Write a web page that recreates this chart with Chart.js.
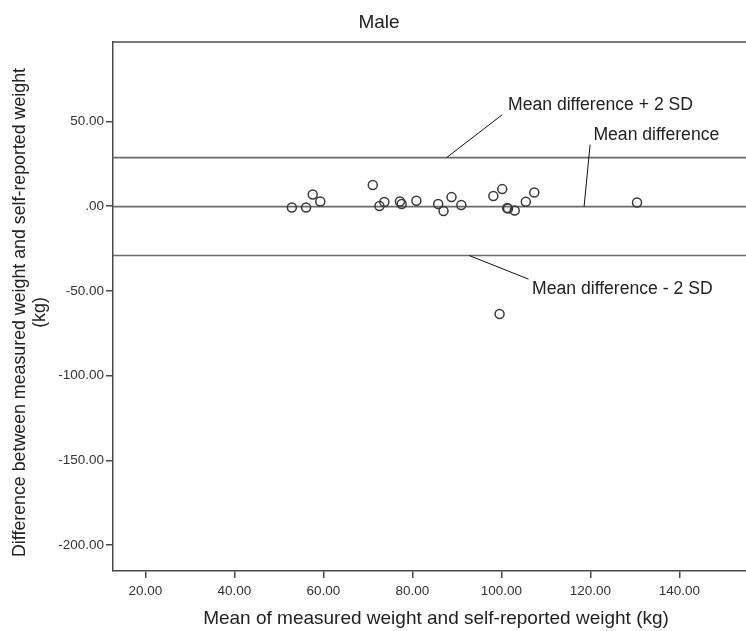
<!DOCTYPE html>
<html>
<head>
<meta charset="utf-8">
<script src="https://cdn.jsdelivr.net/npm/chart.js@4.4.1/dist/chart.umd.min.js"></script>
<style>
  html, body { margin: 0; padding: 0; background: #fff; }
</style>
</head>
<body>
<canvas id="bland-altman" width="746" height="631"></canvas>
<script>
// Bland-Altman data
const meanWeight = [52.9, 56.1, 57.6, 59.3, 71.1, 72.6, 73.7, 77.2, 77.6, 80.9, 85.8, 87.0,
  88.8, 91.0, 98.2, 100.2, 99.6, 101.3, 101.5, 103.0, 105.5, 107.4, 130.5];
const weightDiff = [-0.8, -0.8, 6.8, 2.7, 12.4, 0.0, 2.4, 2.7, 1.2, 3.1, 1.2, -2.9,
  5.3, 0.6, 5.9, 10.0, -63.7, -1.2, -1.4, -2.6, 2.5, 8.0, 2.1];

const meanDifference = -0.3;
const upperLimit = 28.6;
const lowerLimit = -29.2;

const xTicks = [20, 40, 60, 80, 100, 120, 140];
const yTicks = [50, 0, -50, -100, -150, -200];
const xRange = [12.7, 155];
const yRange = [-215.3, 96.8];

const axisColor = "#4a4a4a";
const font = "Liberation Sans, Arial, sans-serif";

const fmt = (v) => (v === 0 ? ".00" : v.toFixed(2));

const refLine = (y) => ({
  type: "line",
  data: [{ x: xRange[0], y: y }, { x: xRange[1], y: y }],
  borderColor: "#6a6a6a",
  borderWidth: 1.6,
  pointRadius: 0,
  order: 2,
});

// label: leader from the line (data coords) to a point, text after it
const annotations = [
  { text: "Mean difference + 2 SD", from: [87.7, upperLimit], to: [100.2, 53.9], at: [101.5, 59.8] },
  { text: "Mean difference", from: [118.6, meanDifference], to: [119.95, 36.2], at: [120.7, 42.1] },
  { text: "Mean difference - 2 SD", from: [92.8, lowerLimit], to: [106.1, -43.1], at: [106.9, -49.3] },
];

const textPlugin = {
  id: "texts",
  afterDraw(chart) {
    const { ctx, chartArea, scales } = chart;
    const x = scales.x, y = scales.y;
    ctx.save();

    // top frame line
    ctx.strokeStyle = axisColor;
    ctx.lineWidth = 1.5;
    ctx.beginPath();
    ctx.moveTo(chartArea.left, chartArea.top);
    ctx.lineTo(chartArea.right, chartArea.top);
    ctx.stroke();

    ctx.fillStyle = "#222";
    ctx.textBaseline = "middle";

    // title
    ctx.font = "19px " + font;
    ctx.textAlign = "center";
    ctx.fillText("Male", 379, 23);

    // x axis title
    ctx.font = "19px " + font;
    ctx.fillText("Mean of measured weight and self-reported weight (kg)", 436, 619);

    // y axis title
    ctx.save();
    ctx.font = "17.8px " + font;
    ctx.translate(20, (chartArea.top + chartArea.bottom) / 2 + 6);
    ctx.rotate(-Math.PI / 2);
    ctx.fillText("Difference between measured weight and self-reported weight", 0, 0);
    ctx.fillText("(kg)", 0, 20);
    ctx.restore();

    // annotations
    ctx.font = "17.6px " + font;
    ctx.textAlign = "left";
    ctx.strokeStyle = "#111";
    ctx.lineWidth = 1;
    annotations.forEach((a) => {
      ctx.beginPath();
      ctx.moveTo(x.getPixelForValue(a.from[0]), y.getPixelForValue(a.from[1]));
      ctx.lineTo(x.getPixelForValue(a.to[0]), y.getPixelForValue(a.to[1]));
      ctx.stroke();
      ctx.fillText(a.text, x.getPixelForValue(a.at[0]), y.getPixelForValue(a.at[1]));
    });
    ctx.restore();
  },
};

new Chart(document.getElementById("bland-altman"), {
  type: "scatter",
  data: {
    datasets: [
      refLine(upperLimit),
      refLine(meanDifference),
      refLine(lowerLimit),
      {
        data: meanWeight.map((m, i) => ({ x: m, y: weightDiff[i] })),
        pointRadius: 4.5,
        pointBorderWidth: 1.5,
        pointBorderColor: "#3a3a3a",
        pointBackgroundColor: "rgba(0,0,0,0)",
        order: 1,
      },
    ],
  },
  options: {
    responsive: false,
    animation: false,
    devicePixelRatio: 1,
    layout: { autoPadding: false, padding: { top: 42, left: 0, right: 0, bottom: 0 } },
    plugins: {
      legend: { display: false },
      tooltip: { enabled: false },
    },
    scales: {
      x: {
        min: xRange[0],
        max: xRange[1],
        afterFit: (s) => {
          s.height = 60;
          s.paddingLeft = 0;
          s.paddingRight = 0;
        },
        afterBuildTicks: (s) => { s.ticks = xTicks.map((v) => ({ value: v })); },
        border: { color: axisColor, width: 1.5 },
        grid: { drawOnChartArea: false, tickLength: 7, color: axisColor, lineWidth: 1.5 },
        ticks: {
          padding: 5,
          maxRotation: 0,
          color: "#333",
          font: { family: font, size: 13.5 },
          callback: (v) => fmt(v),
        },
      },
      y: {
        min: yRange[0],
        max: yRange[1],
        afterFit: (s) => {
          s.width = 113;
          s.paddingTop = 0;
          s.paddingBottom = 0;
        },
        afterBuildTicks: (s) => { s.ticks = yTicks.map((v) => ({ value: v })); },
        border: { color: axisColor, width: 1.5 },
        grid: { drawOnChartArea: false, tickLength: 7, color: axisColor, lineWidth: 1.5 },
        ticks: {
          padding: 2,
          color: "#333",
          font: { family: font, size: 13.5 },
          callback: (v) => fmt(v),
        },
      },
    },
  },
  plugins: [textPlugin],
});
</script>
</body>
</html>
